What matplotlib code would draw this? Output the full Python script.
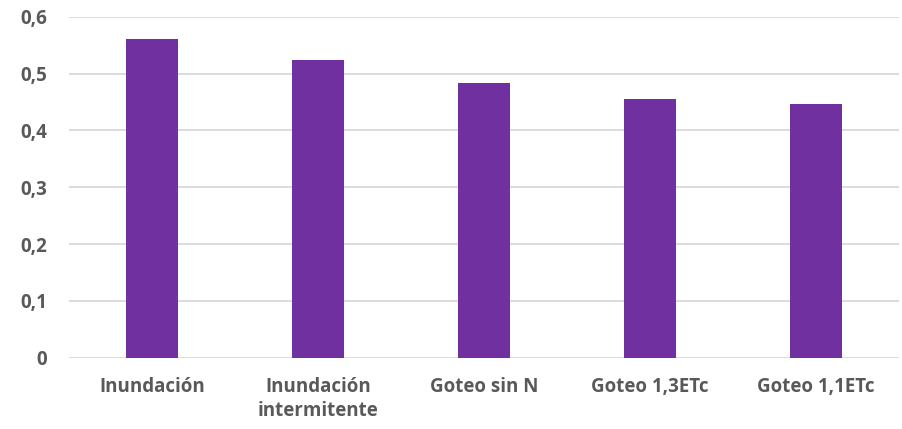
import matplotlib
matplotlib.use("Agg")
import matplotlib.pyplot as plt
import numpy as np

# data
categories = ["Inundación", "Inundación\nintermitente", "Goteo sin N", "Goteo 1,3ETc", "Goteo 1,1ETc"]
values = [0.560, 0.524, 0.483, 0.456, 0.446]
yticks = [0, 0.1, 0.2, 0.3, 0.4, 0.5, 0.6]
ytick_labels = ["0", "0,1", "0,2", "0,3", "0,4", "0,5", "0,6"]

bar_color = "#7030A0"
text_color = "#595959"
grid_color = "#D9D9D9"

plt.rcParams['font.family'] = ['Open Sans', 'DejaVu Sans']

fig = plt.figure(figsize=(9.02, 4.29), dpi=100)
ax = fig.add_axes([69 / 902, 1 - 357.7 / 429, 830 / 902, 341 / 429])

x = np.arange(len(categories))
ax.bar(x, values, width=0.313, color=bar_color, zorder=3)

ax.set_xlim(-0.5, len(categories) - 0.5)
ax.set_ylim(0, 0.6)
ax.set_yticks(yticks)
ax.set_yticklabels(ytick_labels)
ax.set_xticks(x)
ax.set_xticklabels(categories, linespacing=1.25)

ax.grid(axis="y", color=grid_color, linewidth=1.3, zorder=0)
for side in ["top", "right", "left", "bottom"]:
    ax.spines[side].set_visible(False)

ax.tick_params(axis="both", length=0, colors=text_color, labelsize=13.5)
ax.tick_params(axis="y", pad=16)
ax.tick_params(axis="x", pad=14)
for lbl in ax.get_xticklabels() + ax.get_yticklabels():
    lbl.set_fontweight("bold")
    lbl.set_color(text_color)

fig.savefig("out.png", dpi=100)
